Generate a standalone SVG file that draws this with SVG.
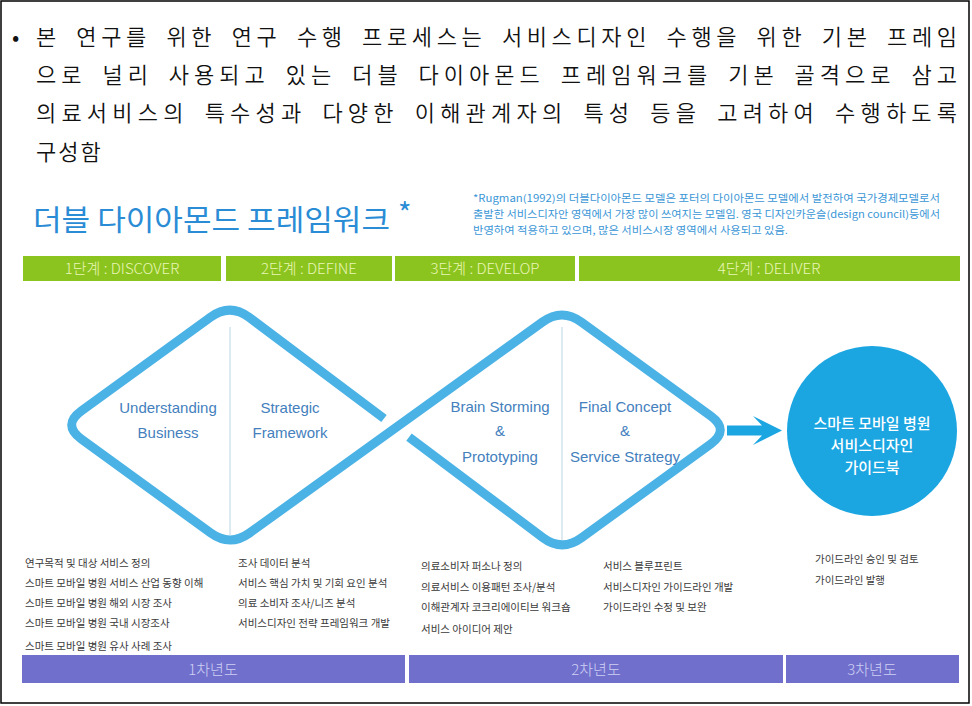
<svg xmlns="http://www.w3.org/2000/svg" width="972" height="706" viewBox="0 0 972 706">
<style>
.para{font-family:"Noto Sans CJK KR","Noto Sans",sans-serif;font-size:22px;fill:#111;font-weight:350}
.title{font-family:"Noto Sans CJK KR",sans-serif;font-size:29px;fill:#2b8cd6;font-weight:400}
.note{font-family:"Noto Sans CJK KR",sans-serif;font-size:10px;fill:#3a96d6}
.stage{font-family:"Noto Sans CJK KR",sans-serif;font-size:15px;fill:#e9f6b8;font-weight:300;text-anchor:middle}
.year{font-family:"Noto Sans CJK KR",sans-serif;font-size:15px;fill:#cfcff3;font-weight:300;text-anchor:middle}
.lbl{font-family:"Liberation Sans","Noto Sans",sans-serif;font-size:15px;fill:#4480bd;text-anchor:middle}
.item{font-family:"Noto Sans CJK KR",sans-serif;font-size:10.5px;fill:#3a3a3a}
.circ{font-family:"Noto Sans CJK KR",sans-serif;font-size:15px;fill:#ffffff;text-anchor:middle;font-weight:500}
.dia{fill:none;stroke:#4bb2e6;stroke-width:9;stroke-linecap:butt;stroke-linejoin:round}
.div{stroke:#d3e3ec;stroke-width:1.5}
.green{fill:#8cc41f}
.purple{fill:#7070cc}
</style>
<rect x="1" y="1" width="968" height="702" fill="#ffffff" stroke="#000" stroke-width="1.5"/>
<g id="paragraph">
<text x="12" y="45" class="para" font-size="18">•</text>
<text x="36" y="45" class="para" word-spacing="6" textLength="921" lengthAdjust="spacing">본 연구를 위한 연구 수행 프로세스는 서비스디자인 수행을 위한 기본 프레임</text>
<text x="36" y="83" class="para" word-spacing="6" textLength="921" lengthAdjust="spacing">으로 널리 사용되고 있는 더블 다이아몬드 프레임워크를 기본 골격으로 삼고</text>
<text x="36" y="121" class="para" word-spacing="6" textLength="921" lengthAdjust="spacing">의료서비스의 특수성과 다양한 이해관계자의 특성 등을 고려하여 수행하도록</text>
<text x="36" y="160" class="para" letter-spacing="2">구성함</text>
</g>
<g id="title">
<text x="33" y="231" class="title" textLength="357" lengthAdjust="spacingAndGlyphs">더블 다이아몬드 프레임워크</text>
<text x="398" y="224" class="title" font-size="17">*</text>
</g>
<g id="footnote">
<text x="473" y="202" class="note" textLength="467" lengthAdjust="spacingAndGlyphs">*Rugman(1992)의 더블다이아몬드 모델은 포터의 다이아몬드 모델에서 발전하여 국가경제모델로서</text>
<text x="473" y="218" class="note" textLength="467" lengthAdjust="spacingAndGlyphs">출발한 서비스디자안 영역에서 가장 많이 쓰여지는 모델임. 영국 디자인카운슬(design council)등에서</text>
<text x="473" y="234" class="note" textLength="315" lengthAdjust="spacingAndGlyphs">반영하여 적용하고 있으며, 많은 서비스시장 영역에서 사용되고 있음.</text>
</g>
<g id="stage1"><rect x="23" y="256" width="198" height="25" class="green"/><text x="122" y="274" class="stage">1단계 : DISCOVER</text></g>
<g id="stage2"><rect x="226" y="256" width="166" height="25" class="green"/><text x="309" y="274" class="stage">2단계 : DEFINE</text></g>
<g id="stage3"><rect x="395" y="256" width="180" height="25" class="green"/><text x="485" y="274" class="stage">3단계 : DEVELOP</text></g>
<g id="stage4"><rect x="579" y="256" width="381" height="25" class="green"/><text x="769" y="274" class="stage">4단계 : DELIVER</text></g>
<g id="connectors">
<line x1="230" y1="327" x2="230" y2="535" class="div"/>
<line x1="562" y1="327" x2="562" y2="540" class="div"/>
<path class="dia" d="M409,437.2 L542.8,537.6 Q562,552 581.4,537.9 L710.6,444.1 Q730,430 710.6,415.9 L581.4,322.1 Q562,308 542.5,322 L249.5,533 Q230,547 210.6,532.9 L81.4,439.1 Q62,425 81.4,410.9 L210.6,317.1 Q230,303 249.2,317.4 L384,418.5"/>
<polygon points="727,425.5 762,425.5 753,416 782,430.5 753,445 762,435.5 727,435.5" fill="#1ba6e2"/>
</g>
<g id="understanding"><text x="168" y="413" class="lbl">Understanding</text><text x="168" y="438" class="lbl">Business</text></g>
<g id="strategic"><text x="290" y="413" class="lbl">Strategic</text><text x="290" y="438" class="lbl">Framework</text></g>
<g id="brainstorming"><text x="500" y="412" class="lbl">Brain Storming</text><text x="500" y="436" class="lbl">&amp;</text><text x="500" y="462" class="lbl">Prototyping</text></g>
<g id="finalconcept"><text x="625" y="412" class="lbl">Final Concept</text><text x="625" y="436" class="lbl">&amp;</text><text x="625" y="462" class="lbl">Service Strategy</text></g>
<g id="guidebook">
<circle cx="872" cy="431" r="85" fill="#1ba6e2"/>
<text x="872" y="429" class="circ">스마트 모바일 병원</text>
<text x="872" y="451" class="circ">서비스디자인</text>
<text x="872" y="473" class="circ">가이드북</text>
</g>
<g id="list1">
<text x="25" y="567" class="item">연구목적 및 대상 서비스 정의</text>
<text x="25" y="587" class="item">스마트 모바일 병원 서비스 산업 동향 이해</text>
<text x="25" y="607" class="item">스마트 모바일 병원 해외 시장 조사</text>
<text x="25" y="627" class="item">스마트 모바일 병원 국내  시장조사</text>
<text x="25" y="650" class="item">스마트 모바일 병원 유사 사례 조사</text>
</g>
<g id="list2">
<text x="238" y="567" class="item">조사 데이터 분석</text>
<text x="238" y="587" class="item">서비스 핵심 가치 및 기회 요인 분석</text>
<text x="238" y="607" class="item">의료 소비자 조사/니즈 분석</text>
<text x="238" y="627" class="item">서비스디자인 전략 프레임워크 개발</text>
</g>
<g id="list3">
<text x="421" y="570" class="item">의료소비자 퍼소나 정의</text>
<text x="421" y="591" class="item">의료서비스 이용패턴 조사/분석</text>
<text x="421" y="611" class="item">이해관계자 코크리에이티브 워크숍</text>
<text x="421" y="633" class="item">서비스 아이디어 제안</text>
</g>
<g id="list4">
<text x="603" y="570" class="item">서비스 블루프린트</text>
<text x="603" y="591" class="item">서비스디자인 가이드라인 개발</text>
<text x="603" y="611" class="item">가이드라인 수정 및 보완</text>
</g>
<g id="list5">
<text x="815" y="563" class="item">가이드라인 승인 및 검토</text>
<text x="815" y="584" class="item">가이드라인 발행</text>
</g>
<g id="year1"><rect x="22" y="655" width="383" height="28" class="purple"/><text x="213" y="675" class="year">1차년도</text></g>
<g id="year2"><rect x="409" y="655" width="374" height="28" class="purple"/><text x="596" y="675" class="year">2차년도</text></g>
<g id="year3"><rect x="786" y="655" width="173" height="28" class="purple"/><text x="872" y="675" class="year">3차년도</text></g>
</svg>
